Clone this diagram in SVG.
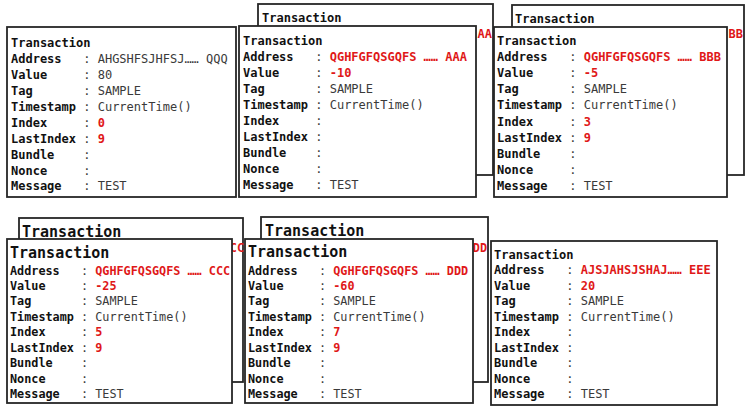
<svg xmlns="http://www.w3.org/2000/svg" width="752" height="415" viewBox="0 0 752 415">
<style>
text{font-family:"DejaVu Sans Mono","Liberation Mono",monospace;font-size:12px}
.box{fill:#fff;stroke:#262626;stroke-width:1.8}
.k{font-weight:bold;fill:#111}
.v{fill:#3a3a3a}
.r{font-weight:bold;fill:#e01818}
.h15{font-size:15px}
.s{font-size:11.8px}
</style>
<rect width="752" height="415" fill="#fff"/>
<g id="connectors"/>

<g id="card1">
<rect class="box" x="7" y="27" width="229" height="170"/>
<text class="k" x="11" y="47">Transaction</text>
<text x="11" y="63"><tspan class="k">Address</tspan><tspan class="v" x="83.2">:</tspan><tspan class="v" x="97.7">AHGSHFSJHFSJ…… QQQ</tspan></text>
<text x="11" y="79"><tspan class="k">Value</tspan><tspan class="v" x="83.2">:</tspan><tspan class="v" x="97.7">80</tspan></text>
<text x="11" y="95"><tspan class="k">Tag</tspan><tspan class="v" x="83.2">:</tspan><tspan class="v" x="97.7">SAMPLE</tspan></text>
<text x="11" y="111"><tspan class="k">Timestamp</tspan><tspan class="v" x="83.2">:</tspan><tspan class="v" x="97.7">CurrentTime()</tspan></text>
<text x="11" y="127"><tspan class="k">Index</tspan><tspan class="v" x="83.2">:</tspan><tspan class="r" x="97.7">0</tspan></text>
<text x="11" y="143"><tspan class="k">LastIndex</tspan><tspan class="v" x="83.2">:</tspan><tspan class="r" x="97.7">9</tspan></text>
<text x="11" y="159"><tspan class="k">Bundle</tspan><tspan class="v" x="83.2">:</tspan></text>
<text x="11" y="175"><tspan class="k">Nonce</tspan><tspan class="v" x="83.2">:</tspan></text>
<text x="11" y="190"><tspan class="k">Message</tspan><tspan class="v" x="83.2">:</tspan><tspan class="v" x="97.7">TEST</tspan></text>
</g>

<g id="card2-back">
<rect class="box" x="258" y="4" width="235" height="171"/>
<text class="k" x="262" y="22">Transaction</text>
<text class="r" x="492" y="37.5" text-anchor="end">AA</text>
</g>
<g id="card2">
<rect class="box" x="239" y="26" width="237" height="171"/>
<text class="k" x="243" y="44.5">Transaction</text>
<text x="243" y="60.6"><tspan class="k">Address</tspan><tspan class="v" x="315.2">:</tspan><tspan class="r" x="329.7">QGHFGFQSGQFS …… AAA</tspan></text>
<text x="243" y="76.7"><tspan class="k">Value</tspan><tspan class="v" x="315.2">:</tspan><tspan class="r" x="329.7">-10</tspan></text>
<text x="243" y="92.8"><tspan class="k">Tag</tspan><tspan class="v" x="315.2">:</tspan><tspan class="v" x="329.7">SAMPLE</tspan></text>
<text x="243" y="108.9"><tspan class="k">Timestamp</tspan><tspan class="v" x="315.2">:</tspan><tspan class="v" x="329.7">CurrentTime()</tspan></text>
<text x="243" y="125"><tspan class="k">Index</tspan><tspan class="v" x="315.2">:</tspan></text>
<text x="243" y="141.1"><tspan class="k">LastIndex</tspan><tspan class="v" x="315.2">:</tspan></text>
<text x="243" y="157.2"><tspan class="k">Bundle</tspan><tspan class="v" x="315.2">:</tspan></text>
<text x="243" y="173.3"><tspan class="k">Nonce</tspan><tspan class="v" x="315.2">:</tspan></text>
<text x="243" y="189.4"><tspan class="k">Message</tspan><tspan class="v" x="315.2">:</tspan><tspan class="v" x="329.7">TEST</tspan></text>
</g>

<g id="card3-back">
<rect class="box" x="512" y="5" width="232" height="170"/>
<text class="k" x="515" y="23">Transaction</text>
<text class="r" x="743" y="37.5" text-anchor="end">BB</text>
</g>
<g id="card3">
<rect class="box" x="494" y="27" width="233" height="170"/>
<text class="k" x="497" y="45">Transaction</text>
<text x="497" y="61.1"><tspan class="k">Address</tspan><tspan class="v" x="569.2">:</tspan><tspan class="r" x="583.7">QGHFGFQSGQFS …… BBB</tspan></text>
<text x="497" y="77.2"><tspan class="k">Value</tspan><tspan class="v" x="569.2">:</tspan><tspan class="r" x="583.7">-5</tspan></text>
<text x="497" y="93.3"><tspan class="k">Tag</tspan><tspan class="v" x="569.2">:</tspan><tspan class="v" x="583.7">SAMPLE</tspan></text>
<text x="497" y="109.4"><tspan class="k">Timestamp</tspan><tspan class="v" x="569.2">:</tspan><tspan class="v" x="583.7">CurrentTime()</tspan></text>
<text x="497" y="125.5"><tspan class="k">Index</tspan><tspan class="v" x="569.2">:</tspan><tspan class="r" x="583.7">3</tspan></text>
<text x="497" y="141.6"><tspan class="k">LastIndex</tspan><tspan class="v" x="569.2">:</tspan><tspan class="r" x="583.7">9</tspan></text>
<text x="497" y="157.7"><tspan class="k">Bundle</tspan><tspan class="v" x="569.2">:</tspan></text>
<text x="497" y="173.8"><tspan class="k">Nonce</tspan><tspan class="v" x="569.2">:</tspan></text>
<text x="497" y="189.9"><tspan class="k">Message</tspan><tspan class="v" x="569.2">:</tspan><tspan class="v" x="583.7">TEST</tspan></text>
</g>

<g id="card4-back">
<rect class="box" x="19" y="218" width="224" height="164"/>
<text class="k h15" x="22" y="237">Transaction</text>
<text class="r s" x="244" y="252" text-anchor="end">CC</text>
</g>
<g id="card4">
<rect class="box" x="7" y="239" width="225" height="164"/>
<text class="k h15" x="10" y="258">Transaction</text>
<text class="s" x="10" y="274.5"><tspan class="k">Address</tspan><tspan class="v" x="81">:</tspan><tspan class="r" x="95.2">QGHFGFQSGQFS …… CCC</tspan></text>
<text class="s" x="10" y="290"><tspan class="k">Value</tspan><tspan class="v" x="81">:</tspan><tspan class="r" x="95.2">-25</tspan></text>
<text class="s" x="10" y="305.4"><tspan class="k">Tag</tspan><tspan class="v" x="81">:</tspan><tspan class="v" x="95.2">SAMPLE</tspan></text>
<text class="s" x="10" y="320.9"><tspan class="k">Timestamp</tspan><tspan class="v" x="81">:</tspan><tspan class="v" x="95.2">CurrentTime()</tspan></text>
<text class="s" x="10" y="336.3"><tspan class="k">Index</tspan><tspan class="v" x="81">:</tspan><tspan class="r" x="95.2">5</tspan></text>
<text class="s" x="10" y="351.8"><tspan class="k">LastIndex</tspan><tspan class="v" x="81">:</tspan><tspan class="r" x="95.2">9</tspan></text>
<text class="s" x="10" y="367.2"><tspan class="k">Bundle</tspan><tspan class="v" x="81">:</tspan></text>
<text class="s" x="10" y="382.7"><tspan class="k">Nonce</tspan><tspan class="v" x="81">:</tspan></text>
<text class="s" x="10" y="398"><tspan class="k">Message</tspan><tspan class="v" x="81">:</tspan><tspan class="v" x="95.2">TEST</tspan></text>
</g>

<g id="card5-back">
<rect class="box" x="261" y="217" width="227" height="165"/>
<text class="k h15" x="265" y="236">Transaction</text>
<text class="r s" x="487" y="252" text-anchor="end">DD</text>
</g>
<g id="card5">
<rect class="box" x="245" y="239" width="228" height="164"/>
<text class="k h15" x="248" y="257">Transaction</text>
<text class="s" x="248" y="274.5"><tspan class="k">Address</tspan><tspan class="v" x="319">:</tspan><tspan class="r" x="333.2">QGHFGFQSGQFS …… DDD</tspan></text>
<text class="s" x="248" y="290"><tspan class="k">Value</tspan><tspan class="v" x="319">:</tspan><tspan class="r" x="333.2">-60</tspan></text>
<text class="s" x="248" y="305.4"><tspan class="k">Tag</tspan><tspan class="v" x="319">:</tspan><tspan class="v" x="333.2">SAMPLE</tspan></text>
<text class="s" x="248" y="320.9"><tspan class="k">Timestamp</tspan><tspan class="v" x="319">:</tspan><tspan class="v" x="333.2">CurrentTime()</tspan></text>
<text class="s" x="248" y="336.3"><tspan class="k">Index</tspan><tspan class="v" x="319">:</tspan><tspan class="r" x="333.2">7</tspan></text>
<text class="s" x="248" y="351.8"><tspan class="k">LastIndex</tspan><tspan class="v" x="319">:</tspan><tspan class="r" x="333.2">9</tspan></text>
<text class="s" x="248" y="367.2"><tspan class="k">Bundle</tspan><tspan class="v" x="319">:</tspan></text>
<text class="s" x="248" y="382.7"><tspan class="k">Nonce</tspan><tspan class="v" x="319">:</tspan></text>
<text class="s" x="248" y="398"><tspan class="k">Message</tspan><tspan class="v" x="319">:</tspan><tspan class="v" x="333.2">TEST</tspan></text>
</g>

<g id="card6">
<rect class="box" x="491" y="241" width="226" height="164"/>
<text class="k" x="494" y="258.5">Transaction</text>
<text x="494" y="274"><tspan class="k">Address</tspan><tspan class="v" x="566.2">:</tspan><tspan class="r" x="580.7">AJSJAHSJSHAJ…… EEE</tspan></text>
<text x="494" y="289.5"><tspan class="k">Value</tspan><tspan class="v" x="566.2">:</tspan><tspan class="r" x="580.7">20</tspan></text>
<text x="494" y="305"><tspan class="k">Tag</tspan><tspan class="v" x="566.2">:</tspan><tspan class="v" x="580.7">SAMPLE</tspan></text>
<text x="494" y="320.5"><tspan class="k">Timestamp</tspan><tspan class="v" x="566.2">:</tspan><tspan class="v" x="580.7">CurrentTime()</tspan></text>
<text x="494" y="336"><tspan class="k">Index</tspan><tspan class="v" x="566.2">:</tspan></text>
<text x="494" y="351.5"><tspan class="k">LastIndex</tspan><tspan class="v" x="566.2">:</tspan></text>
<text x="494" y="367"><tspan class="k">Bundle</tspan><tspan class="v" x="566.2">:</tspan></text>
<text x="494" y="382.5"><tspan class="k">Nonce</tspan><tspan class="v" x="566.2">:</tspan></text>
<text x="494" y="398"><tspan class="k">Message</tspan><tspan class="v" x="566.2">:</tspan><tspan class="v" x="580.7">TEST</tspan></text>
</g>
</svg>
